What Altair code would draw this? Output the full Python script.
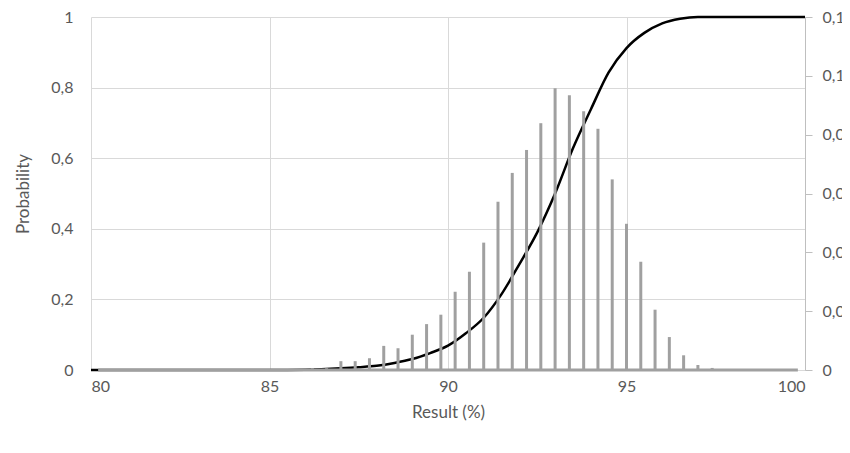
import altair as alt
import pandas as pd

# Histogram (right axis): result bins and probabilities
bin_results = [86.2, 86.6, 87.0, 87.4, 87.8, 88.2, 88.6, 89.0, 89.4, 89.8,
               90.2, 90.6, 91.0, 91.4, 91.8, 92.2, 92.6, 93.0, 93.4, 93.8,
               94.2, 94.6, 95.0, 95.4, 95.8, 96.2, 96.6, 97.0, 97.4, 97.8]
bin_probs = [0.0006, 0.0006, 0.003, 0.003, 0.004, 0.0082, 0.0074, 0.012, 0.0156, 0.0188,
             0.0266, 0.0334, 0.0433, 0.0572, 0.067, 0.0748, 0.0839, 0.0958, 0.0934, 0.088,
             0.082, 0.0648, 0.0497, 0.0368, 0.0205, 0.0112, 0.005, 0.0017, 0.0007, 0.0003]
support_start = 80.2
support_end = 99.8

# Cumulative probability (left axis)
cdf_x = [80, 85, 86, 87, 87.5, 88, 88.5, 89, 89.5, 90, 90.5, 91, 91.5, 92, 92.5,
         93, 93.5, 94, 94.5, 95, 95.5, 96, 96.5, 97, 100]
cdf_y = [0, 0, 0.001, 0.005, 0.008, 0.012, 0.02, 0.031, 0.048, 0.069, 0.104, 0.148, 0.215,
         0.30, 0.39, 0.50, 0.628, 0.738, 0.843, 0.912, 0.955, 0.982, 0.995, 1.0, 1.0]

x_ticks = [80, 85, 90, 95, 100]
left_ticks = [0, 0.2, 0.4, 0.6, 0.8, 1]
right_ticks = [0, 0.02, 0.04, 0.06, 0.08, 0.1, 0.12]

bars_df = pd.DataFrame({"result": bin_results, "p": bin_probs, "zero": 0.0})
base_df = pd.DataFrame({"start": [support_start], "end": [support_end], "zero": [0.0]})
cdf_df = pd.DataFrame({"result": cdf_x, "cum": cdf_y})

FONT = "Lato"
GRAY_TXT = "#595959"
comma = "replace(format(datum.value, '.2~f'), '.', ',')"

xscale = alt.Scale(domain=[80, 100], nice=False, zero=False)
x_axis = alt.Axis(values=x_ticks, title="Result (%)", grid=True, gridColor="#d9d9d9",
                  ticks=False, domain=False, labelPadding=8, titlePadding=10,
                  labelFontSize=16, titleFontSize=17, labelColor=GRAY_TXT,
                  titleColor=GRAY_TXT, labelFont=FONT, titleFont=FONT,
                  titleFontWeight="normal")

left_scale = alt.Scale(domain=[0, 1], nice=False)
left_axis = alt.Axis(values=left_ticks, labelExpr=comma, title="Probability",
                     grid=True, gridColor="#d9d9d9", ticks=False, domain=False,
                     labelPadding=18, titlePadding=18, labelFontSize=16,
                     titleFontSize=17, labelColor=GRAY_TXT, titleColor=GRAY_TXT,
                     labelFont=FONT, titleFont=FONT, titleFontWeight="normal")

right_scale = alt.Scale(domain=[0, 0.12], nice=False)
right_axis = alt.Axis(orient="right", values=right_ticks, labelExpr=comma, title=None,
                      grid=False, domain=True, domainColor="#bfbfbf", ticks=True,
                      tickColor="#bfbfbf", tickSize=7, labelPadding=10,
                      labelFontSize=16, labelColor=GRAY_TXT, labelFont=FONT)

cdf = alt.Chart(cdf_df).mark_line(color="black", strokeWidth=2.5,
                                  interpolate="monotone").encode(
    x=alt.X("result:Q", scale=xscale, axis=x_axis),
    y=alt.Y("cum:Q", scale=left_scale, axis=left_axis),
)
baseline = alt.Chart(base_df).mark_rule(color="#a0a0a0", strokeWidth=3).encode(
    x=alt.X("start:Q", scale=xscale),
    x2="end:Q",
    y=alt.Y("zero:Q", scale=left_scale),
)
left_layer = alt.layer(cdf, baseline)

bars = alt.Chart(bars_df).mark_rule(color="#a0a0a0", strokeWidth=3).encode(
    x=alt.X("result:Q", scale=xscale),
    y=alt.Y("zero:Q", scale=right_scale, axis=right_axis),
    y2="p:Q",
)

chart = alt.layer(left_layer, bars).resolve_scale(y="independent").properties(
    width=714, height=353,
    autosize=alt.AutoSizeParams(type="none"),
    padding={"left": 83, "top": 9, "right": 37, "bottom": 70},
).configure_view(stroke=None)

chart.save("out.html", embed_options={"renderer": "svg", "actions": False})
